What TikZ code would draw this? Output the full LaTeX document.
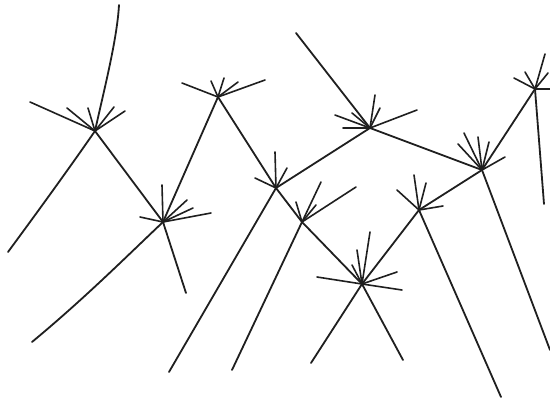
\documentclass[tikz,border=0pt]{standalone}
\begin{document}
\begin{tikzpicture}[x=1pt,y=-1pt,line cap=round,line join=round,
  ln/.style={line width=1.8pt,black!88},
  spoke/.style={line width=1.6pt,black!88}]
\useasboundingbox[fill=white] (0,0) rectangle (550,399);
% junctions
\coordinate (A) at (95,131);
\coordinate (B) at (218,97);
\coordinate (C) at (163,222);
\coordinate (D) at (276,188);
\coordinate (E) at (370,128);
\coordinate (F) at (302,222);
\coordinate (G) at (362,284);
\coordinate (H) at (419,210);
\coordinate (I) at (482,170);
\coordinate (J) at (535,89);
% free ends
\coordinate (a0) at (119,5);
\coordinate (a1) at (8,252);
\coordinate (c1) at (32,342);
\coordinate (c2) at (186,293);
\coordinate (d1) at (169,372);
\coordinate (e0) at (296,33);
\coordinate (f1) at (232,370);
\coordinate (g1) at (311,363);
\coordinate (g2) at (403,360);
\coordinate (h1) at (501,397);
\coordinate (i1) at (550,350);
\coordinate (j1) at (544,204);
% main lines
\draw[ln] (a0) .. controls (117,40) and (104,90) .. (A);
\draw[ln] (A) .. controls (68,170) and (36,214) .. (a1);
\draw[ln] (A) -- (C);
\draw[ln] (B) -- (C);
\draw[ln] (B) -- (D);
\draw[ln] (C) .. controls (125,258) and (85,298) .. (c1);
\draw[ln] (C) -- (c2);
\draw[ln] (D) -- (d1);
\draw[ln] (D) -- (E);
\draw[ln] (D) -- (F);
\draw[ln] (e0) -- (E);
\draw[ln] (E) -- (I);
\draw[ln] (F) -- (f1);
\draw[ln] (F) -- (G);
\draw[ln] (G) -- (g1);
\draw[ln] (G) -- (g2);
\draw[ln] (G) -- (H);
\draw[ln] (H) -- (h1);
\draw[ln] (H) -- (I);
\draw[ln] (I) -- (i1);
\draw[ln] (I) -- (J);
\draw[ln] (J) -- (j1);
% spokes
\foreach \n/\list in {
  A/{30/102,67/108,88/108,114/107,125/111},
  B/{182/83,211/81,224/78,238/82,265/80},
  C/{162/185,187/200,193/208,211/213,140/217},
  D/{275/152,287/168,255/178},
  E/{375/95,380/108,352/113,335/115,343/128,417/110},
  F/{296/202,321/182,316/205,356/187},
  G/{370/232,357/250,352/265,317/277,397/272,402/290},
  H/{397/190,414/175,426/183,443/206},
  I/{458/144,464/133,478/137,489/142,505/157},
  J/{514/78,525/72,545/54,548/73,550/89}}{
  \foreach \x/\y [count=\i] in \list {
    \coordinate (\n s\i) at (\x,\y);
    \draw[spoke] (\n) -- (\n s\i);
  }
}
\end{tikzpicture}
\end{document}
